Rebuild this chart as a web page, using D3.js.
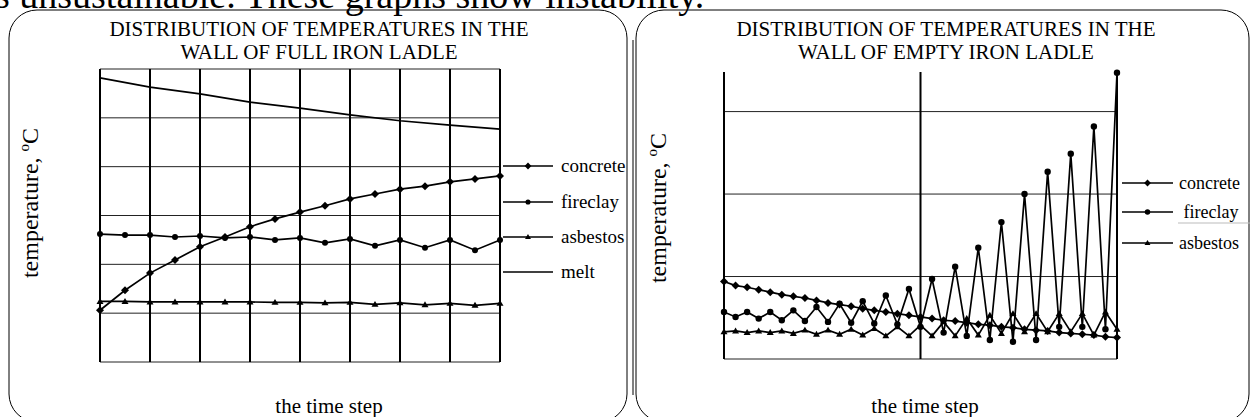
<!DOCTYPE html>
<html lang="en">
<head>
  <meta charset="UTF-8">
  <title>Distribution of temperatures in the wall of iron ladle</title>
  <script src="https://d3js.org/d3.v7.min.js"></script>
  <style>
    body { margin: 0; padding: 0; background: #fff; }
    svg { display: block; }
    text { font-family: "Liberation Serif", "Times New Roman", serif; fill: #000; }
  </style>
</head>
<body>
  <div id="chart"></div>

  <script>
    // ---- data (values in the chart's own units, grid step = 100) ----
    const fullSteps = d3.range(17);
    const fullConcrete = [106, 147, 182, 209, 236, 256, 277, 293, 307, 320, 334, 344, 354, 360, 369, 375, 381];
    const fullFireclay = [262, 260, 260, 256, 258, 254, 256, 250, 254, 244, 252, 238, 250, 234, 250, 229, 250];
    const fullAsbestos = [124, 124, 123, 123, 123, 123, 123, 122, 122, 121, 122, 118, 121, 117, 120, 116, 120];
    const meltSteps = [0, 2, 4, 6, 8, 10, 12, 14, 16];
    const fullMelt = [582, 563, 549, 532, 520, 506, 494, 485, 477];

    const emptySteps = d3.range(35);
    const emptyConcrete = [94, 89, 87, 84, 81, 78, 76, 74, 71, 68, 66, 64, 61, 59, 57, 55, 53,
      51, 49, 47, 46, 44, 42, 41, 39, 38, 36, 35, 34, 32, 31, 30, 29, 27, 26];
    const emptyFireclay = [57, 51, 57, 49, 57, 47, 59, 46, 63, 45, 67, 44, 70, 43, 77, 42, 85,
      39, 97, 32, 112, 28, 135, 23, 166, 21, 200, 23, 227, 39, 249, 39, 282, 36, 347];
    const emptyAsbestos = [33, 34, 32, 34, 32, 34, 31, 35, 30, 35, 30, 36, 29, 37, 28, 39, 28,
      41, 28, 45, 28, 49, 29, 53, 31, 55, 33, 55, 33, 55, 33, 55, 29, 57, 36];

    const fullGridY = [0, 100, 200, 300, 400, 500, 600];
    const fullGridX = [0, 2, 4, 6, 8, 10, 12, 14, 16];
    const emptyGridY = [0, 100, 200, 300];
    const emptyGridX = [0, 17, 34];

    const legendFull = ["concrete", "fireclay", "asbestos", "melt"];
    const legendEmpty = ["concrete", " fireclay", "asbestos"];

    // ---- drawing ----
    const width = 1250, height = 417;
    const svg = d3.select("#chart").append("svg")
      .attr("width", width)
      .attr("height", height);

    // piece of the caption above the figure (cut off by the crop, as in the source)
    svg.append("text")
      .attr("x", -5).attr("y", 8)
      .style("font-size", "38px")
      .text("s unsustainable. These graphs show instability.");

    const markers = {
      diamond: s => `M0,${-s}L${s},0L0,${s}L${-s},0Z`,
      circle: s => `M${s},0A${s},${s} 0 1,1 ${-s},0A${s},${s} 0 1,1 ${s},0Z`,
      triangle: s => `M0,${-s}L${s},${s * 0.7}L${-s},${s * 0.7}Z`
    };

    function drawPanel(p) {
      const g = svg.append("g");

      // rounded frame
      g.append("rect")
        .attr("x", p.box[0]).attr("y", p.box[1])
        .attr("width", p.box[2]).attr("height", p.box[3])
        .attr("rx", 28).attr("ry", 28)
        .attr("fill", "none").attr("stroke", "#000").attr("stroke-width", 1);

      // title
      p.title.forEach((t, i) => {
        g.append("text")
          .attr("x", p.titleX).attr("y", 36 + i * 23)
          .attr("text-anchor", "middle")
          .style("font-size", "21px")
          .text(t);
      });

      // axis titles
      const yl = g.append("text")
        .attr("transform", `translate(${p.yLabelX},${p.yLabelY}) rotate(-90)`)
        .attr("text-anchor", "middle")
        .style("font-size", "24px");
      yl.append("tspan").text("temperature, ");
      yl.append("tspan").attr("dy", -9).style("font-size", "15px").text("o");
      yl.append("tspan").attr("dy", 9).text("C");

      g.append("text")
        .attr("x", p.xLabelX).attr("y", 413)
        .attr("text-anchor", "middle")
        .style("font-size", "21px")
        .text("the time step");

      const x = p.x, y = p.y;
      const [x0, x1] = x.range();
      const [yb, yt] = y.range();

      // grid
      g.selectAll(".hgrid").data(p.gridY).join("line")
        .attr("x1", x0).attr("x2", x1)
        .attr("y1", d => y(d)).attr("y2", d => y(d))
        .attr("stroke", "#222").attr("stroke-width", 1);
      g.selectAll(".vgrid").data(p.gridX).join("line")
        .attr("x1", d => x(d)).attr("x2", d => x(d))
        .attr("y1", yb).attr("y2", yt)
        .attr("stroke", "#000").attr("stroke-width", 2);

      // series
      p.series.forEach(s => {
        const pts = s.values.map((v, i) => [x(s.steps[i]), y(v)]);
        g.append("path")
          .attr("d", d3.line()(pts))
          .attr("fill", "none")
          .attr("stroke", "#000")
          .attr("stroke-width", 1.7);
        if (s.marker) {
          g.selectAll(null).data(pts).join("path")
            .attr("transform", d => `translate(${d[0]},${d[1]})`)
            .attr("d", markers[s.marker](s.size))
            .attr("fill", "#000");
        }
      });

      // legend
      p.series.forEach((s, i) => {
        const ly = p.legend.y[i];
        g.append("line")
          .attr("x1", p.legend.x0).attr("x2", p.legend.x1)
          .attr("y1", ly).attr("y2", ly)
          .attr("stroke", "#000").attr("stroke-width", 1.7);
        if (s.marker) {
          g.append("path")
            .attr("transform", `translate(${(p.legend.x0 + p.legend.x1) / 2},${ly})`)
            .attr("d", markers[s.marker](s.size * 0.85))
            .attr("fill", "#000");
        }
        g.append("text")
          .attr("x", p.legend.tx).attr("y", ly)
          .attr("dy", "0.32em")
          .style("font-size", p.legend.fs + "px")
          .style("white-space", "pre")
          .text(p.legend.labels[i]);
      });
      return g;
    }

    drawPanel({
      box: [9, 10, 618, 412],
      title: ["DISTRIBUTION OF TEMPERATURES IN THE", "WALL OF FULL IRON LADLE"],
      titleX: 319,
      yLabelX: 38, yLabelY: 203,
      xLabelX: 329,
      x: d3.scaleLinear().domain([0, 16]).range([100, 500]),
      y: d3.scaleLinear().domain([0, 600]).range([362, 69]),
      gridX: fullGridX, gridY: fullGridY,
      series: [
        { steps: fullSteps, values: fullConcrete, marker: "diamond", size: 4 },
        { steps: fullSteps, values: fullFireclay, marker: "circle", size: 3 },
        { steps: fullSteps, values: fullAsbestos, marker: "triangle", size: 3.5 },
        { steps: meltSteps, values: fullMelt, marker: null }
      ],
      legend: { x0: 503, x1: 553, tx: 561, fs: 19, y: [166, 202, 237, 272], labels: legendFull }
    });

    const right = drawPanel({
      box: [636, 10, 613, 412],
      title: ["DISTRIBUTION OF TEMPERATURES IN THE", "WALL OF EMPTY IRON LADLE"],
      titleX: 946,
      yLabelX: 666, yLabelY: 208,
      xLabelX: 925,
      x: d3.scaleLinear().domain([0, 34]).range([724, 1117]),
      y: d3.scaleLinear().domain([0, 348]).range([359, 72]),
      gridX: emptyGridX, gridY: emptyGridY,
      series: [
        { steps: emptySteps, values: emptyConcrete, marker: "diamond", size: 4 },
        { steps: emptySteps, values: emptyFireclay, marker: "circle", size: 3.2 },
        { steps: emptySteps, values: emptyAsbestos, marker: "triangle", size: 3.5 }
      ],
      legend: { x0: 1122, x1: 1173, tx: 1179, fs: 18, y: [183, 212, 243], labels: legendEmpty }
    });

    // second stroke on the left edge of the right frame, and the rule under "fireclay"
    right.append("line")
      .attr("x1", 633).attr("x2", 633).attr("y1", 40).attr("y2", 395)
      .attr("stroke", "#000").attr("stroke-width", 1);
    right.append("line")
      .attr("x1", 1178).attr("x2", 1250).attr("y1", 223).attr("y2", 223)
      .attr("stroke", "#bbb").attr("stroke-width", 1);
  </script>
</body>
</html>
